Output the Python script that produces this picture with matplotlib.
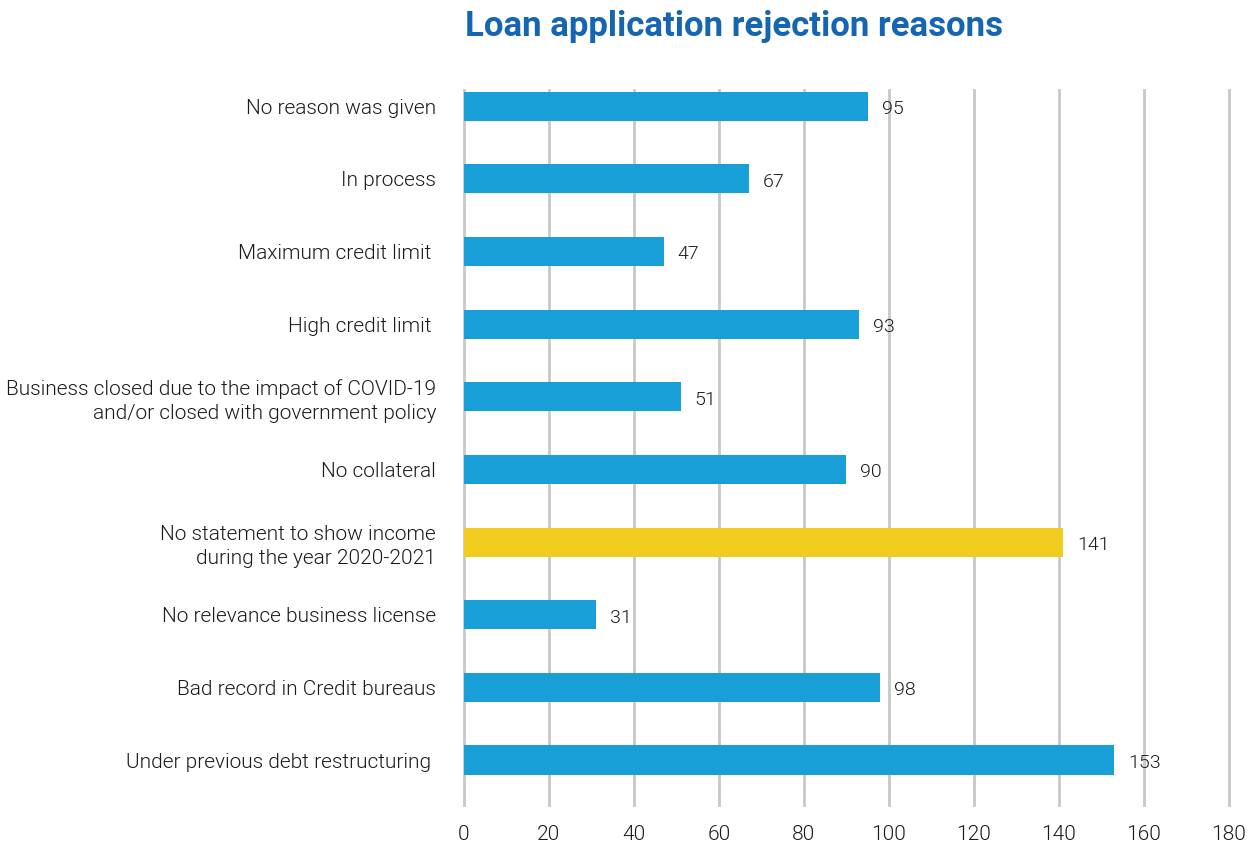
import matplotlib
matplotlib.use('Agg')
import matplotlib.pyplot as plt

plt.rcParams['font.family'] = ['Roboto', 'DejaVu Sans']

# rejection reasons, top to bottom
reasons = [
    'No reason was given',
    'In process',
    'Maximum credit limit ',
    'High credit limit ',
    'Business closed due to the impact of COVID-19\nand/or closed with government policy',
    'No collateral',
    'No statement to show income\nduring the year 2020-2021',
    'No relevance business license',
    'Bad record in Credit bureaus',
    'Under previous debt restructuring ',
]
counts = [95, 67, 47, 93, 51, 90, 141, 31, 98, 153]
highlight = 'No statement to show income\nduring the year 2020-2021'

blue = '#189fd8'
yellow = '#f0cc1e'
colors = [yellow if r == highlight else blue for r in reasons]
text_col = '#1a1a1a'
light = 300

fig = plt.figure(figsize=(12.54, 8.43), dpi=100)
ax = fig.add_axes([0.370, 0.045, 0.610, 0.848])

pos = list(range(len(reasons)))
bars = ax.barh(pos, counts, height=0.4, color=colors, zorder=3)

for b, v in zip(bars, counts):
    ax.annotate(str(v), (b.get_width(), b.get_y() + b.get_height() / 2),
                xytext=(10, -2), textcoords='offset points',
                va='center', ha='left', fontsize=14, color=text_col,
                fontweight=light)

ax.set_xlim(0, 180)
ax.set_ylim(9.62, -0.22)
ax.set_xticks(range(0, 181, 20))
ax.set_yticks(pos)
ax.set_yticklabels(reasons, fontsize=15, fontweight=light, color=text_col,
                   linespacing=1.35)
ax.tick_params(axis='y', length=0, pad=20)
ax.tick_params(axis='x', length=0, pad=14, labelsize=15, labelcolor=text_col)
for t in ax.get_xticklabels():
    t.set_fontweight(light)

ax.grid(axis='x', color='#c8c8c8', linewidth=2, zorder=0)
for gl in ax.get_xgridlines():
    gl.set_clip_on(False)
for s in ax.spines.values():
    s.set_visible(False)

fig.suptitle('Loan application rejection reasons', x=0.585, y=0.988,
             fontsize=25, fontweight='bold', color='#1565b3')

fig.savefig('out.png', dpi=100)
